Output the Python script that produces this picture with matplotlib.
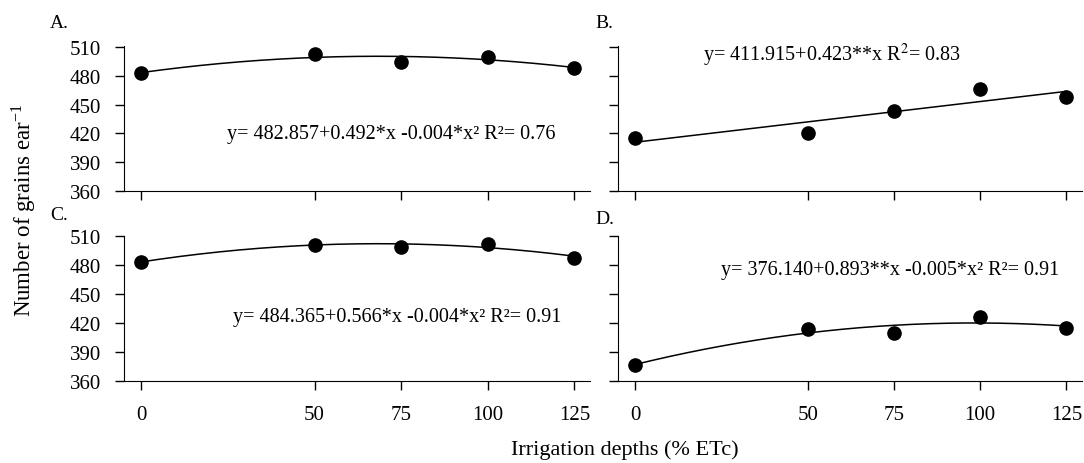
#Importing Libraries
import numpy as np
import matplotlib
matplotlib.use('Agg')
import matplotlib.pyplot as plt

plt.rcParams['font.family'] = 'Liberation Serif'
plt.rcParams['mathtext.fontset'] = 'stix'

#Irrigation depths (% ETc)
depths = [0, 50, 75, 100, 125]

#Number of grains per ear
grains_a = [482.8, 502.8, 494.2, 500.0, 488.0]
grains_b = [414.8, 420.7, 443.0, 466.2, 457.6]
grains_c = [483.7, 501.4, 499.3, 502.4, 487.9]
grains_d = [376.4, 413.2, 409.3, 426.6, 414.8]

#Regression degree of each panel
degree_a = 2
degree_b = 1
degree_c = 2
degree_d = 2

#Equations written on the panels
eq_a = 'y= 482.857+0.492*x -0.004*x² R²= 0.76'
eq_b = r'y= 411.915+0.423**x R$^{2}$= 0.83'
eq_c = 'y= 484.365+0.566*x -0.004*x² R²= 0.91'
eq_d = 'y= 376.140+0.893**x -0.005*x² R²= 0.91'

yticks = [360, 390, 420, 450, 480, 510]

fig = plt.figure(figsize=(10.84, 4.64), dpi=100)

#Axes positions [left, bottom, width, height]
ax_a = fig.add_axes([0.1144, 0.5862, 0.4299, 0.3125])
ax_b = fig.add_axes([0.5701, 0.5862, 0.4280, 0.3125])
ax_c = fig.add_axes([0.1144, 0.1778, 0.4299, 0.3125])
ax_d = fig.add_axes([0.5701, 0.1778, 0.4280, 0.3125])

panels = [
    (ax_a, grains_a, degree_a, eq_a, (227, 135), 'left', True, False),
    (ax_b, grains_b, degree_b, eq_b, (703, 55), 'left', False, False),
    (ax_c, grains_c, degree_c, eq_c, (233, 318), 'left', True, True),
    (ax_d, grains_d, degree_d, eq_d, (1059, 271), 'right', False, True),
]

xfit = np.linspace(0, 125, 200)

for ax, grains, deg, eq, pos, ha, ylab, xlab in panels:
    #fitted regression curve
    coef = np.polyfit(depths, grains, deg)
    ax.plot(xfit, np.polyval(coef, xfit), color='black', linewidth=1.1, zorder=2)
    ax.plot(depths, grains, 'o', color='black', markersize=9.5, zorder=3)
    ax.set_xlim(-5, 129.5)
    ax.set_ylim(360, 511)
    ax.set_xticks(depths)
    ax.set_yticks(yticks)
    ax.spines['top'].set_visible(False)
    ax.spines['right'].set_visible(False)
    ax.tick_params(direction='out', length=6.5, width=1, labelsize=15, colors='black')
    ax.tick_params(axis='y', pad=10)
    ax.tick_params(axis='x', pad=11)
    if not ylab:
        ax.set_yticklabels([])
    if not xlab:
        ax.set_xticklabels([])
    #equation text in figure pixels
    fig.text(pos[0] / 1084, 1 - pos[1] / 464, eq, ha=ha, va='center', fontsize=14.5)

#Panel letters
fig.text(50 / 1084, 1 - 23 / 464, 'A.', ha='left', va='center', fontsize=14)
fig.text(595 / 1084, 1 - 23 / 464, 'B.', ha='left', va='center', fontsize=14)
fig.text(50 / 1084, 1 - 216 / 464, 'C.', ha='left', va='center', fontsize=14)
fig.text(595 / 1084, 1 - 220 / 464, 'D.', ha='left', va='center', fontsize=14)

#Axis titles
fig.text(24 / 1084, 1 - 210 / 464, r'Number of grains ear$^{\mathregular{-1}}$', rotation=90,
         ha='center', va='center', fontsize=16.5)
fig.text(625 / 1084, 1 - 450 / 464, 'Irrigation depths (% ETc)', ha='center', va='center', fontsize=16)

plt.savefig('out.png', dpi=100)
